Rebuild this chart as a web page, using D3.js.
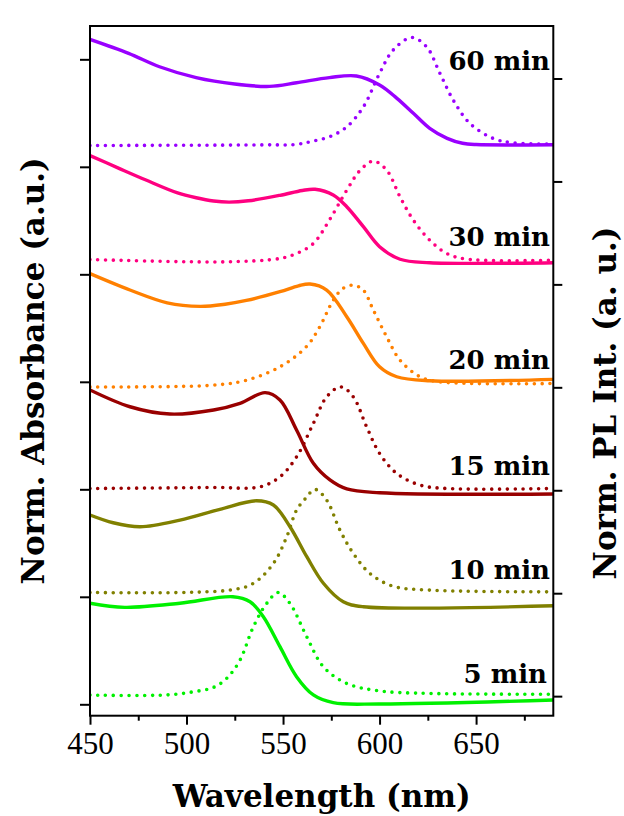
<!DOCTYPE html>
<html>
<head>
<meta charset="utf-8">
<script src="https://cdn.jsdelivr.net/npm/d3@7"></script>
<style>
  body { margin: 0; background: #fff; }
  svg { display: block; }
  .ticklabel { font-family: "Liberation Serif", "Times New Roman", serif; font-size: 31px; }
</style>
</head>
<body>
<svg id="chart" width="624" height="816"></svg>
<script>
// Axis ticks
const wavelengthTicks = [450, 500, 550, 600, 650];
const wavelengthMinor = [475, 525, 575, 625, 675];
const absTicks = [0, 1, 2, 3, 4, 5, 6];
const plTicks = [0, 1, 2, 3, 4, 5, 6];

// Growth times, bottom to top, and their colours
const samples = ["5 min", "10 min", "15 min", "20 min", "30 min", "60 min"];
const colors = ["#00f000", "#808000", "#990000", "#ff8000", "#ff0080", "#9900ff"];

// Normalised absorbance, stacked (wavelength nm, value)
const abs5 = [[450,0.940],[468,0.902],[496.6,0.940],[524,1.001],[532.9,0.954],[539.8,0.815],[548.4,0.536],[557,0.257],[565.7,0.087],[576,0.015],[600,0.003],[690,0.040]];
const abs10 = [[450,1.761],[462,1.689],[476,1.652],[496.6,1.714],[517.3,1.814],[536.3,1.894],[545,1.854],[553.6,1.652],[562.3,1.373],[570.9,1.126],[581.2,0.954],[591.6,0.908],[690,0.917]];
const abs15 = [[450,2.924],[470.7,2.768],[491.4,2.700],[514,2.738],[527.7,2.800],[540.7,2.899],[548.4,2.831],[557,2.552],[565.7,2.242],[574.3,2.087],[583,2.003],[600,1.968],[690,1.956]];
const abs20 = [[450,4.006],[470.7,3.854],[490,3.735],[507,3.702],[520,3.722],[531,3.757],[548.4,3.838],[558,3.893],[564,3.910],[572.6,3.854],[583,3.606],[591.6,3.358],[600,3.140],[608.9,3.047],[626,3.010],[690,3.023]];
const abs30 = [[450,5.105],[465,4.986],[479,4.877],[495,4.760],[505,4.712],[514,4.682],[522,4.672],[532,4.684],[548.4,4.735],[560,4.780],[566.6,4.791],[576,4.738],[583,4.629],[591.6,4.443],[600,4.257],[610.6,4.140],[626,4.108],[690,4.108]];
const abs60 = [[450,6.186],[470,6.056],[486,5.931],[505,5.830],[525,5.770],[543,5.748],[557,5.782],[574,5.830],[588,5.845],[600,5.761],[609,5.637],[617.5,5.498],[626,5.358],[635,5.265],[643,5.219],[650,5.207],[690,5.206]];

// Normalised photoluminescence, stacked (wavelength nm, value)
const pl5 = [[450,0.010],[490,0.012],[503.5,0.042],[514,0.085],[520.8,0.172],[527.7,0.350],[534.6,0.673],[541.5,0.900],[547.5,1.007],[553.6,0.900],[562.3,0.576],[570.9,0.285],[583,0.123],[600,0.051],[626,0.026],[690,0.019]];
const pl10 = [[450,1.007],[522.5,1.030],[534.6,1.095],[545,1.289],[551.9,1.547],[557,1.807],[561.5,1.917],[566.6,2.008],[572.6,1.904],[579.5,1.612],[586.4,1.386],[595,1.192],[607,1.068],[626,1.030],[690,1.013]];
const pl15 = [[450,2.017],[514,2.027],[538,2.033],[548.4,2.130],[557,2.324],[565.7,2.649],[572.6,2.907],[580,3.004],[586.4,2.907],[593.3,2.616],[600,2.358],[608.9,2.163],[621,2.050],[634.8,2.017],[690,2.017]];
const pl20 = [[450,3.004],[514,3.021],[531,3.069],[548.4,3.199],[562,3.393],[569,3.587],[576,3.846],[581,3.960],[586.4,3.992],[591.6,3.944],[596.8,3.749],[603.7,3.490],[610.6,3.264],[621,3.102],[631.3,3.053],[690,3.037]];
const pl30 = [[450,4.242],[520,4.219],[548.4,4.252],[557,4.300],[565.7,4.397],[574,4.624],[583,4.915],[590,5.109],[596.8,5.197],[603.7,5.109],[610.6,4.850],[617.5,4.624],[626,4.429],[634.8,4.300],[645,4.245],[690,4.235]];
const pl60 = [[450,5.349],[540,5.355],[557,5.360],[565.7,5.393],[574,5.433],[583,5.530],[591.6,5.724],[600,6.049],[607,6.275],[616.6,6.398],[624.4,6.307],[631.3,6.049],[638.2,5.789],[646.8,5.563],[659,5.417],[669,5.375],[690,5.362]];

const absData = [abs5, abs10, abs15, abs20, abs30, abs60];
const plData = [pl5, pl10, pl15, pl20, pl30, pl60];

const series = samples.map((name, i) => ({ name, color: colors[i], abs: absData[i], pl: plData[i] }));

// Layout
const plot = { left: 90, right: 553.3, top: 26, bottom: 715.7 };
const labelBaseline = [683.3, 579, 475, 369.3, 246, 70];
const labelRight = [547, 550, 550, 550, 550, 550];

const x = d3.scaleLinear([450, 690], [plot.left, plot.right]);
const yAbs = d3.scaleLinear([-0.106, 6.31], [plot.bottom, plot.top]);
const yPL = d3.scaleLinear([-0.19, 6.51], [plot.bottom, plot.top]);

const svg = d3.select("#chart");

svg.append("defs").append("clipPath").attr("id", "plotClip")
  .append("rect")
  .attr("x", plot.left).attr("y", plot.top)
  .attr("width", plot.right - plot.left).attr("height", plot.bottom - plot.top);

const smooth = d3.curveCatmullRom.alpha(0.5);
const lineAbs = d3.line().x(d => x(d[0])).y(d => yAbs(d[1])).curve(smooth);
const linePL = d3.line().x(d => x(d[0])).y(d => yPL(d[1])).curve(smooth);

const curves = svg.append("g").attr("clip-path", "url(#plotClip)");

// Emission spectra (dotted)
curves.selectAll("path.pl").data(series).join("path")
  .attr("class", "pl")
  .attr("d", d => linePL(d.pl))
  .attr("fill", "none")
  .attr("stroke", d => d.color)
  .attr("stroke-width", 3.6)
  .attr("stroke-linecap", "round")
  .attr("stroke-dasharray", "0 7.8");

// Absorption spectra (solid)
curves.selectAll("path.abs").data(series).join("path")
  .attr("class", "abs")
  .attr("d", d => lineAbs(d.abs))
  .attr("fill", "none")
  .attr("stroke", d => d.color)
  .attr("stroke-width", 3.4)
  .attr("stroke-linejoin", "round");

// Axes
const bottomAxis = d3.axisBottom(x).tickValues(wavelengthTicks).tickSize(9).tickFormat(d3.format("d"));
const bottomMinor = d3.axisBottom(x).tickValues(wavelengthMinor).tickSize(5).tickFormat("");
const leftAxis = d3.axisLeft(yAbs).tickValues(absTicks).tickSize(10).tickFormat("");
const rightAxis = d3.axisRight(yPL).tickValues(plTicks).tickSize(9).tickFormat("");

function styleAxis(g) {
  g.attr("font-family", null).attr("font-size", null);
  g.select(".domain").remove();
  g.selectAll(".tick line").attr("stroke", "#000").attr("stroke-width", 2);
}

const gb = svg.append("g").attr("transform", `translate(0,${plot.bottom})`).call(bottomAxis).call(styleAxis);
gb.selectAll(".tick text")
  .attr("class", "ticklabel")
  .attr("y", 38.5).attr("dy", null)
  .attr("fill", "#000");
svg.append("g").attr("transform", `translate(0,${plot.bottom})`).call(bottomMinor).call(styleAxis);
svg.append("g").attr("transform", `translate(${plot.left},0)`).call(leftAxis).call(styleAxis);
svg.append("g").attr("transform", `translate(${plot.right},0)`).call(rightAxis).call(styleAxis);

// Frame
svg.append("rect")
  .attr("x", plot.left).attr("y", plot.top)
  .attr("width", plot.right - plot.left).attr("height", plot.bottom - plot.top)
  .attr("fill", "none").attr("stroke", "#000").attr("stroke-width", 2);

// Sample labels
svg.selectAll("text.sample").data(series).join("text")
  .attr("class", "sample")
  .attr("x", (d, i) => labelRight[i])
  .attr("y", (d, i) => labelBaseline[i])
  .attr("text-anchor", "end")
  .style("font-family", "'DejaVu Serif', serif")
  .style("font-weight", "bold")
  .style("font-size", "26px")
  .text(d => d.name);

// Axis titles
const titleStyle = sel => sel
  .attr("text-anchor", "middle")
  .style("font-family", "'DejaVu Serif', serif")
  .style("font-weight", "bold")
  .style("font-size", "31px");

svg.append("text")
  .attr("x", (plot.left + plot.right) / 2).attr("y", 807)
  .call(titleStyle)
  .text("Wavelength (nm)");

svg.append("text")
  .attr("transform", `translate(44,${(plot.top + plot.bottom) / 2}) rotate(-90)`)
  .call(titleStyle)
  .text("Norm. Absorbance (a.u.)");

svg.append("text")
  .attr("transform", "translate(616,403) rotate(-90)")
  .call(titleStyle)
  .text("Norm. PL Int. (a. u.)");
</script>
</body>
</html>
